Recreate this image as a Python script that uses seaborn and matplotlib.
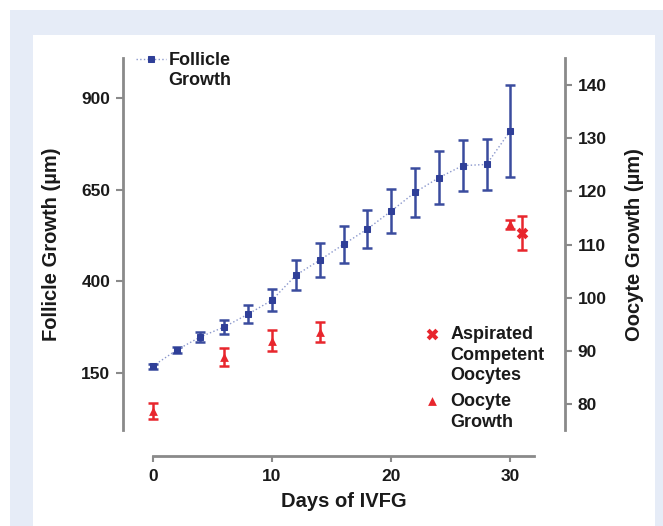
import matplotlib
matplotlib.use("Agg")
import matplotlib.pyplot as plt
from matplotlib.patches import Rectangle
import seaborn as sns
import pandas as pd

# ---- data ----
follicle_days = [0, 2, 4, 6, 8, 10, 12, 14, 16, 18, 20, 22, 24, 26, 28, 30]
follicle_mean = [169, 213, 249, 276, 311, 349, 417, 458, 501, 543, 592, 643, 683, 716, 719, 811]
follicle_err = [7, 8, 14, 20, 24, 30, 41, 47, 51, 53, 61, 66, 73, 69, 70, 125]

oocyte_days = [0, 6, 10, 14, 30]
oocyte_mean = [78.6, 88.9, 91.9, 93.6, 113.8]
oocyte_err = [1.5, 1.7, 2.0, 1.9, 0.9]

aspirated_days = [31]
aspirated_mean = [112.1]
aspirated_err = [3.2]

x_ticks = [0, 10, 20, 30]
left_ticks = [150, 400, 650, 900]
right_ticks = [80, 90, 100, 110, 120, 130, 140]

sns.set_style("ticks")
plt.rcParams['font.family'] = ['Liberation Sans', 'DejaVu Sans']
plt.rcParams['font.weight'] = 'bold'
plt.rcParams['axes.labelweight'] = 'bold'

BLUE = '#2f3f98'
BLUE_LINE = '#8a97cc'
RED = '#e8262d'
GRAY = '#8a8a8a'
TXT = '#1a1a1a'

fig = plt.figure(figsize=(6.63, 5.26), dpi=100)
fig.patch.set_facecolor('white')
fig.patches.append(Rectangle((10/663, 0), 653/663, 516/526, transform=fig.transFigure,
                             facecolor='#e6ecf7', edgecolor='none', zorder=-10))
fig.patches.append(Rectangle((33/663, 0), 622/663, 491/526, transform=fig.transFigure,
                             facecolor='white', edgecolor='none', zorder=-9))

ax = fig.add_axes([0.1855, 0.1825, 0.667, 0.707])
ax.set_facecolor('none')
ax2 = ax.twinx()

df_f = pd.DataFrame({'day': follicle_days, 'val': follicle_mean})
df_o = pd.DataFrame({'day': oocyte_days, 'val': oocyte_mean})
df_a = pd.DataFrame({'day': aspirated_days, 'val': aspirated_mean})

ax.errorbar(follicle_days, follicle_mean, yerr=follicle_err, fmt='none',
            ecolor='#3a4c9e', elinewidth=1.8, capsize=3.5, capthick=1.8, zorder=2)
sns.lineplot(data=df_f, x='day', y='val', ax=ax, color=BLUE_LINE, linestyle=':',
             linewidth=1.0, marker='s', markersize=5, markerfacecolor=BLUE,
             markeredgecolor=BLUE, label='Follicle\nGrowth', zorder=3)

ax2.errorbar(oocyte_days, oocyte_mean, yerr=oocyte_err, fmt='none',
             ecolor=RED, elinewidth=1.8, capsize=3.5, capthick=1.8, zorder=2)
ax2.errorbar(aspirated_days, aspirated_mean, yerr=aspirated_err, fmt='none',
             ecolor=RED, elinewidth=1.8, capsize=3.5, capthick=1.8, zorder=2)
sns.scatterplot(data=df_a, x='day', y='val', ax=ax2, color=RED, marker='X', s=70,
                edgecolor=RED, linewidth=0, label='Aspirated\nCompetent\nOocytes', zorder=3)
sns.scatterplot(data=df_o, x='day', y='val', ax=ax2, color=RED, marker='^', s=40,
                edgecolor=RED, linewidth=0, label='Oocyte\nGrowth', zorder=3)

ax.set_xlim(-2.5, 34.6)
ax.set_ylim(-5, 1009)
ax2.set_ylim(75.1, 145.1)

ax.set_xticks(x_ticks)
ax.set_yticks(left_ticks)
ax2.set_yticks(right_ticks)

for a in (ax, ax2):
    for s in a.spines.values():
        s.set_color(GRAY)
        s.set_linewidth(2)
    a.tick_params(direction='out', length=5, width=1.5, color=GRAY,
                  labelsize=12.5, labelcolor=TXT, pad=4)
ax.spines['top'].set_visible(False)
ax.spines['right'].set_visible(False)
ax2.spines['top'].set_visible(False)
ax2.spines['left'].set_visible(False)
ax2.spines['bottom'].set_visible(False)
ax.spines['bottom'].set_position(('outward', 19))
ax.spines['bottom'].set_bounds(0, 32)
ax.tick_params(axis='x', length=4, pad=5)

ax.set_xlabel('Days of IVFG', fontsize=14.5, color=TXT)
ax.set_ylabel('Follicle Growth (µm)', fontsize=14.5, color=TXT)
ax2.set_ylabel('Oocyte Growth (µm)', fontsize=14.5, color=TXT)
ax.xaxis.set_label_coords(0.5, -0.168)
ax.yaxis.set_label_coords(-0.14, 0.5)
ax2.yaxis.set_label_coords(1.136, 0.5)

def top_align(leg, spacing=None):
    for col in leg._legend_handle_box.get_children():
        for row in col.get_children():
            row.align = 'top'
    if spacing:
        for t in leg.get_texts():
            t.set_linespacing(spacing)

leg1 = ax.legend(loc='upper left', bbox_to_anchor=(0.013, 1.035), frameon=False,
                 fontsize=13, handlelength=1.65, handletextpad=0.15, borderaxespad=0,
                 labelcolor=TXT)
top_align(leg1)
leg2 = ax2.legend(loc='upper left', bbox_to_anchor=(0.663, 0.3), frameon=False,
                  fontsize=13, handlelength=1.0, handletextpad=0.5, borderaxespad=0,
                  labelspacing=0.5, labelcolor=TXT)
top_align(leg2, 1.3)

fig.savefig('out.png', dpi=100, facecolor='white')
